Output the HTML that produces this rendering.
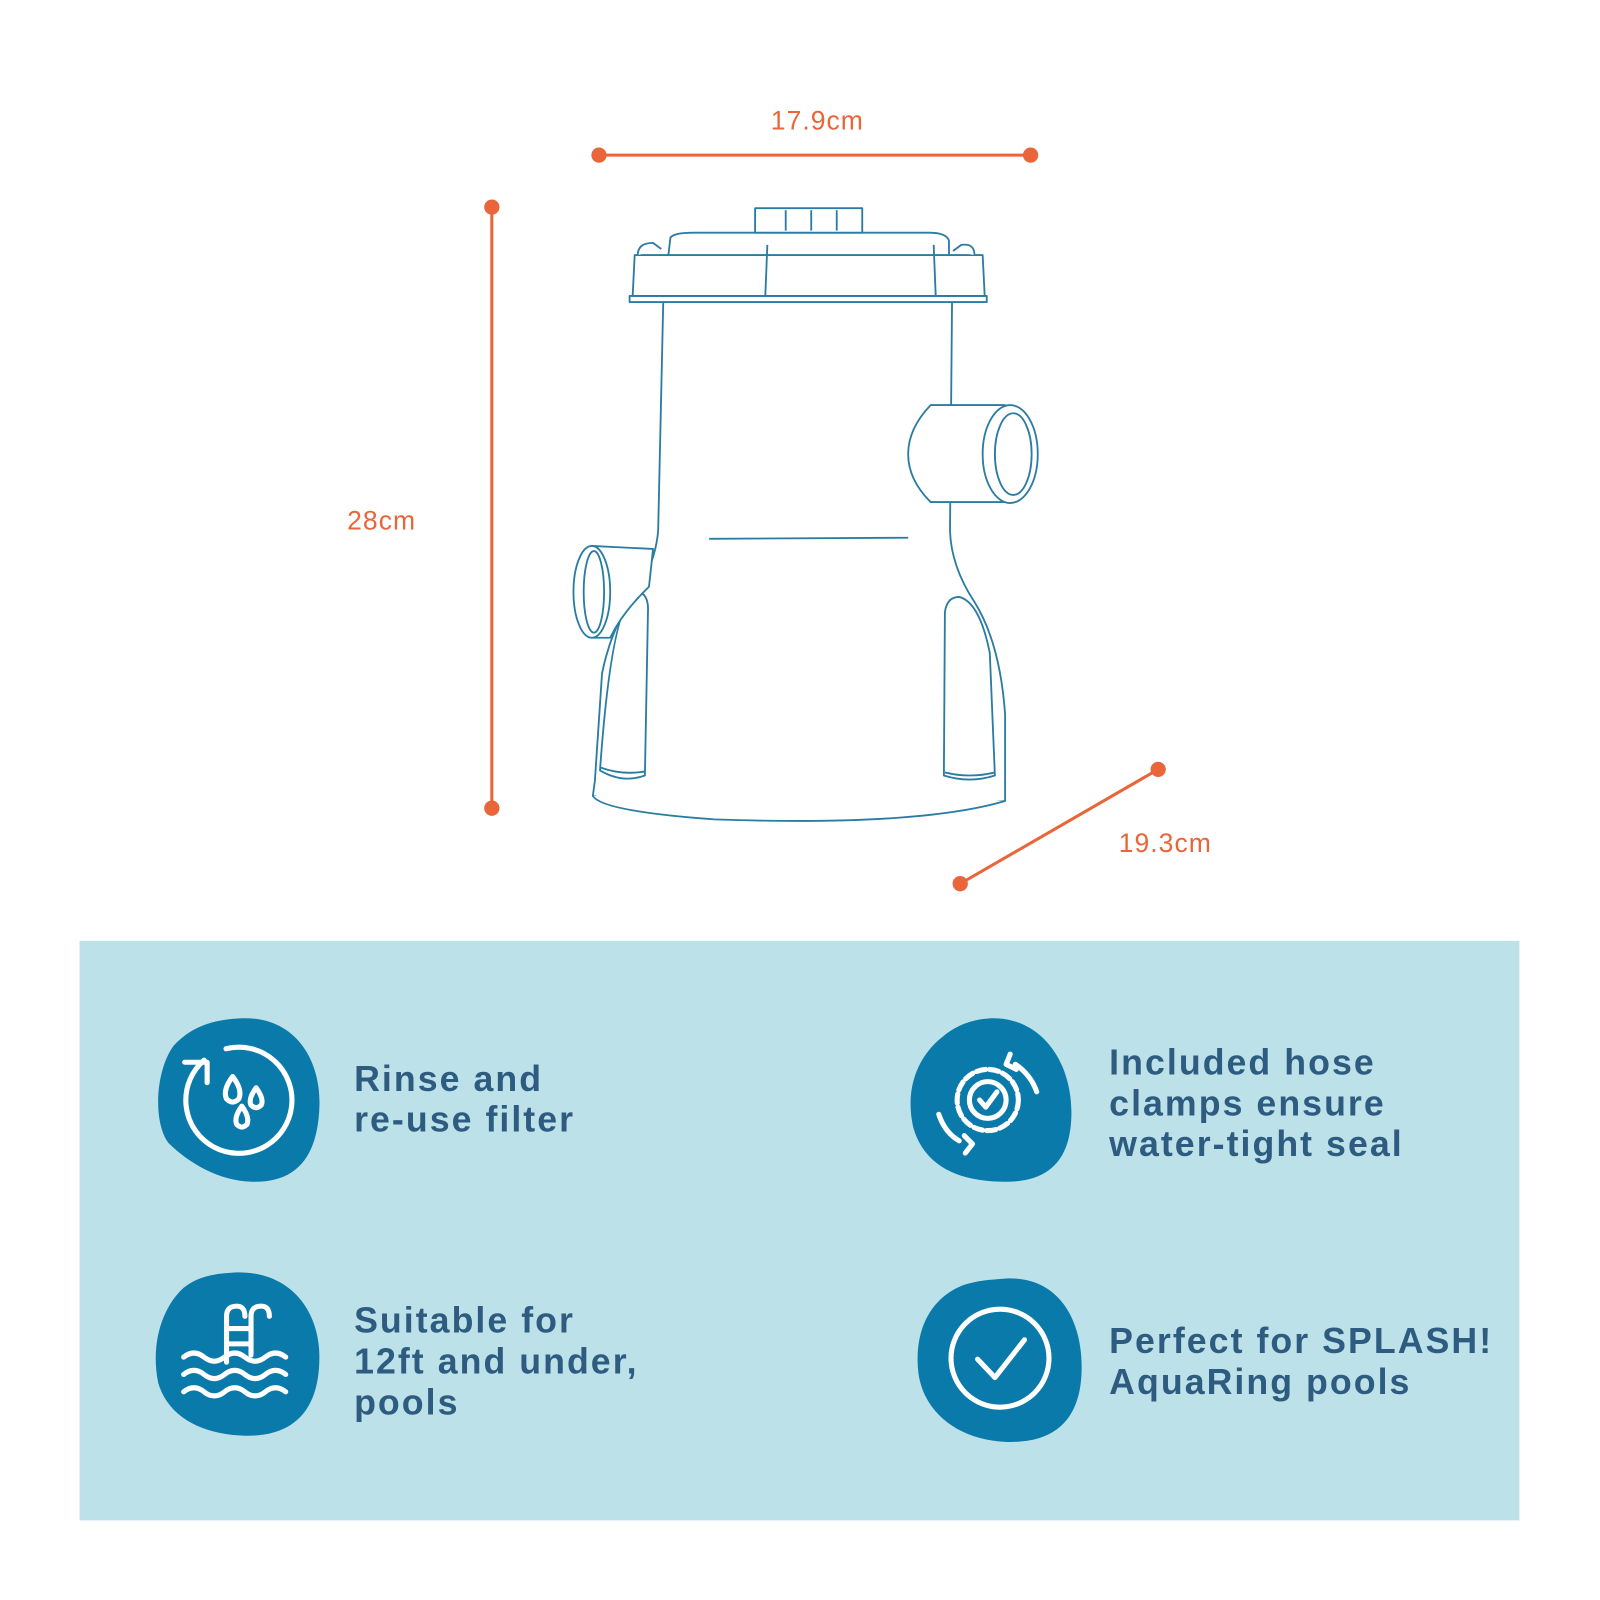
<!DOCTYPE html>
<html><head><style>html,body{margin:0;padding:0;background:#fff}svg{display:block}</style></head>
<body>
<svg width="1600" height="1600" viewBox="0 0 1568 1568" xmlns="http://www.w3.org/2000/svg" font-family="Liberation Sans, sans-serif">
<rect width="1568" height="1568" fill="#fff"/>
<g stroke="#e8663a" stroke-width="3" fill="#e8663a">
<line x1="587" y1="152" x2="1010" y2="152"/><circle cx="587" cy="152" r="6"/><circle cx="1010" cy="152" r="6"/>
<line x1="482" y1="203" x2="482" y2="792"/><circle cx="482" cy="203" r="6"/><circle cx="482" cy="792" r="6"/>
<line x1="941" y1="866" x2="1135" y2="754"/><circle cx="941" cy="866" r="6"/><circle cx="1135" cy="754" r="6"/>
</g>
<g fill="#e8663a" font-size="26" text-anchor="middle" letter-spacing="1">
<text x="801" y="127">17.9cm</text>
<text x="374" y="519">28cm</text>
<text x="1142" y="835">19.3cm</text>
</g>
<g fill="#fff" stroke="#2a7ca3" stroke-width="1.8" stroke-linejoin="round">
<path d="M650 295 L645 520 Q643 545 630 570 Q600 610 590 660 L583 765 L581 780 Q700 812 985 785 L985 700 Q980 630 955 590 Q932 555 931 520 L933 295 Z"/>
<path d="M581 780 Q590 795 700 803 Q900 810 985 785"/>
<path d="M588 755 Q600 585 625 580 Q636 582 635 600 L632 760 Q610 768 588 755 Z"/>
<path d="M925 760 L926 600 Q928 585 940 585 Q960 590 970 640 L975 760 Q950 768 925 760 Z"/>
<path d="M588 752 Q610 760 632 756"/><path d="M926 757 Q950 763 975 757"/>
<line x1="695" y1="528" x2="890" y2="527"/>
<path d="M580 535 L640 538 L636 575 Q610 600 598 625 L580 625 Z"/>
<ellipse cx="580" cy="580" rx="18" ry="45"/><ellipse cx="582" cy="580" rx="10" ry="40"/>
<path d="M912 397 L985 397 L985 492 L912 492 Q890 470 890 445 Q890 420 912 397 Z"/>
<ellipse cx="990" cy="445" rx="27" ry="48"/><ellipse cx="993" cy="445" rx="18" ry="40"/>
<path d="M617 290 L967 290 L967 296 L617 296 Z"/>
<path d="M620 290 L622 250 L963 250 L965 290 Z"/>
<path d="M625 250 Q625 238 640 238 L648 244"/><path d="M955 250 Q955 238 942 240 L934 246"/>
<path d="M655 250 L657 233 Q660 228 680 228 L910 228 Q928 228 930 236 L930 250 Z"/>
<path d="M740 228 L740 204 L845 204 L845 228 Z"/>
<line x1="752" y1="240" x2="750" y2="290"/><line x1="915" y1="240" x2="917" y2="290"/>
<line x1="770" y1="206" x2="770" y2="226"/><line x1="795" y1="206" x2="795" y2="226"/><line x1="820" y1="206" x2="820" y2="226"/>
</g>
<rect x="78" y="922" width="1411" height="568" fill="#bde1e8"/>
<g fill="#0a7aaa">
<path d="M235 998 C290 995 315 1040 313 1085 C311 1140 285 1160 245 1158 C215 1157 185 1140 165 1120 C150 1100 152 1050 170 1025 C190 1003 215 999 235 998 Z"/>
<path d="M970 998 C1020 996 1050 1040 1050 1090 C1050 1140 1025 1160 980 1158 C935 1157 905 1140 895 1105 C885 1060 905 1030 925 1015 C940 1003 955 999 970 998 Z"/>
<path d="M230 1247 C285 1245 313 1285 313 1330 C313 1385 285 1408 240 1407 C200 1406 165 1390 155 1355 C147 1315 160 1280 180 1262 C195 1250 212 1248 230 1247 Z"/>
<path d="M985 1253 C1035 1250 1060 1290 1060 1340 C1060 1390 1035 1415 985 1413 C940 1411 905 1385 900 1345 C895 1300 915 1270 945 1259 C958 1255 970 1254 985 1253 Z"/>
</g>
<g fill="none" stroke="#fff" stroke-width="5" stroke-linecap="round" stroke-linejoin="round">
<path d="M221.5 1027.8 A52 52 0 1 1 200 1039"/><path d="M181 1041 L203 1041 L203 1061"/>
<path d="M228 1055 Q218 1068 222 1077 Q228 1083 234 1077 Q238 1068 228 1055 Z"/>
<path d="M251 1066 Q243 1077 246 1083 Q251 1088 256 1083 Q259 1077 251 1066 Z"/>
<path d="M237 1084 Q229 1095 232 1102 Q237 1107 242 1102 Q245 1095 237 1084 Z"/>
<circle cx="968" cy="1078" r="18"/><circle cx="968" cy="1078" r="30" stroke-dasharray="9 4"/>
<path d="M960 1078 L966 1085 L977 1070"/>
<path d="M995 1043 Q1010 1053 1016 1070"/><path d="M990 1033 L986 1043 L996 1048"/>
<path d="M940 1118 Q926 1110 920 1092"/><path d="M946 1130 L953 1121 L945 1113"/>
<circle cx="980" cy="1331" r="48"/><path d="M958 1332 L975 1350 L1004 1313"/>
<path d="M222 1335 L222 1290 Q222 1280 232 1280 Q240 1280 240 1290"/><path d="M246 1328 L246 1290 Q246 1280 256 1280 Q264 1280 264 1290"/>
<line x1="222" y1="1302" x2="246" y2="1302"/><line x1="222" y1="1317" x2="246" y2="1317"/>
<path d="M180 1330 q10 -8 20 0 t20 0 t20 0 t20 0 t20 0"/>
<path d="M180 1347 q10 -8 20 0 t20 0 t20 0 t20 0 t20 0"/>
<path d="M180 1364 q10 -8 20 0 t20 0 t20 0 t20 0 t20 0"/>
</g>
<g fill="#2e5b80" font-size="35" font-weight="bold" letter-spacing="2">
<text x="347" y="1069">Rinse and</text><text x="347" y="1109">re-use filter</text>
<text x="1087" y="1053">Included hose</text><text x="1087" y="1093">clamps ensure</text><text x="1087" y="1133">water-tight seal</text>
<text x="347" y="1306">Suitable for</text><text x="347" y="1346">12ft and under,</text><text x="347" y="1386">pools</text>
<text x="1087" y="1326">Perfect for SPLASH!</text><text x="1087" y="1366">AquaRing pools</text>
</g>
</svg>
</body></html>
